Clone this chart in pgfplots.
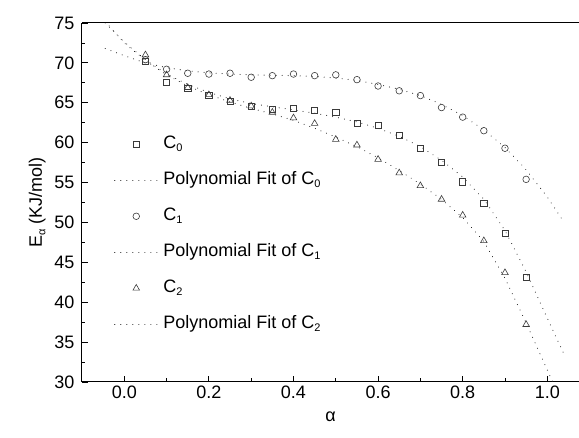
\documentclass[border=0pt]{standalone}
\usepackage{pgfplots}
\pgfplotsset{compat=1.18}
\usepackage{fontspec}
\setmainfont{Liberation Sans}
\definecolor{mk}{HTML}{3A3A3A}
\newcommand\sub[1]{\raisebox{-3.5pt}{\fontsize{11}{11}\selectfont #1}}
\begin{document}
\begin{tikzpicture}
\begin{axis}[
  scale only axis, width=497pt, height=359pt,
  xmin=-0.1, xmax=1.075, ymin=30, ymax=75,
  axis x line*=bottom, axis y line*=left,
  axis line style={line width=1pt, -},
  tick align=inside,
  xtick={0,0.2,0.4,0.6,0.8,1.0}, ytick={30,35,40,45,50,55,60,65,70,75},
  minor x tick num=1, minor y tick num=1,
  major tick length=6pt, minor tick length=3.5pt,
  every tick/.style={line width=0.8pt, black},
  xticklabel style={/pgf/number format/.cd, fixed, fixed zerofill, precision=1},
  /pgf/number format/assume math mode=true,
  ticklabel style={font=\fontsize{18}{20}\selectfont},
  yticklabel style={xshift=-4pt},
  xlabel={α}, ylabel={E\sub{α} (KJ/mol)},
  xlabel style={yshift=-7pt},
  ylabel style={yshift=2pt},
  label style={font=\fontsize{18}{20}\selectfont},
  legend cell align=left,
  legend style={draw=none, fill=none, inner sep=0pt,
    at={(axis description cs:0.0644,0.685)}, anchor=north west,
    font=\fontsize{18}{20}\selectfont, row sep=20pt, column sep=5pt,
    nodes={inner sep=0pt, text height=12pt, text depth=4pt}},
  extra description/.code={\draw[line width=1pt] (0,1) -- (1,1);},
  mk/.style={only marks, color=mk, line width=0.6pt,
    legend image code/.code={\draw[##1,mark repeat=2,mark phase=2] plot coordinates {(0pt,0pt) (21.5pt,0pt) (43pt,0pt)};}},
  fit/.style={no marks, color=black!85, line width=1.1pt, line cap=round, dash pattern=on 0.01pt off 6pt,
    legend image code/.code={\draw[##1] (0pt,0pt) -- (43pt,0pt);}},
]
\addplot[mk, mark=square, mark size=3.1pt] coordinates {
(0.05,70.2) (0.10,67.6) (0.15,66.8) (0.20,65.9) (0.25,65.2) (0.30,64.6) (0.35,64.2) (0.40,64.3) (0.45,64.1)
(0.50,63.8) (0.55,62.4) (0.60,62.2) (0.65,60.9) (0.70,59.3) (0.75,57.5) (0.80,55.1) (0.85,52.4) (0.90,48.6) (0.95,43.1)};
\addlegendentry{C\sub{0}}
\addplot[fit] coordinates {
(-0.045,75.0) (0,72.6) (0.05,70.4) (0.10,68.6) (0.15,67.3) (0.20,66.3) (0.25,65.5) (0.30,64.9) (0.35,64.5) (0.40,64.1)
(0.45,63.7) (0.50,63.2) (0.55,62.6) (0.60,61.8) (0.65,60.8) (0.70,59.5) (0.75,57.8) (0.80,55.7) (0.85,52.9)
(0.90,49.0) (0.95,43.8) (1.00,38.0) (1.042,33.2)};
\addlegendentry{Polynomial Fit of C\sub{0}}
\addplot[mk, mark=o, mark size=3.3pt] coordinates {
(0.05,70.4) (0.10,69.2) (0.15,68.7) (0.20,68.6) (0.25,68.7) (0.30,68.2) (0.35,68.4) (0.40,68.6) (0.45,68.4)
(0.50,68.5) (0.55,67.9) (0.60,67.1) (0.65,66.5) (0.70,65.9) (0.75,64.4) (0.80,63.2) (0.85,61.5) (0.90,59.3) (0.95,55.4)};
\addlegendentry{C\sub{1}}
\addplot[fit] coordinates {
(-0.045,71.8) (0,70.9) (0.05,70.0) (0.10,69.4) (0.15,69.0) (0.20,68.75) (0.25,68.6) (0.30,68.5) (0.35,68.45)
(0.40,68.4) (0.45,68.3) (0.50,68.1) (0.55,67.8) (0.60,67.3) (0.65,66.7) (0.70,65.9) (0.75,64.8) (0.80,63.4)
(0.85,61.6) (0.90,59.4) (0.95,56.6) (1.00,53.2) (1.04,50.0)};
\addlegendentry{Polynomial Fit of C\sub{1}}
\addplot[mk, mark=triangle, mark size=3.8pt] coordinates {
(0.05,71.0) (0.10,68.5) (0.15,66.9) (0.20,66.0) (0.25,65.3) (0.30,64.6) (0.35,63.8) (0.40,63.1) (0.45,62.4)
(0.50,60.4) (0.55,59.7) (0.60,57.9) (0.65,56.2) (0.70,54.6) (0.75,52.9) (0.80,50.9) (0.85,47.7) (0.90,43.7) (0.95,37.2)};
\addlegendentry{C\sub{2}}
\addplot[fit] coordinates {
(-0.045,75.2) (0,72.5) (0.05,70.3) (0.10,68.5) (0.15,67.1) (0.20,66.0) (0.25,65.1) (0.30,64.3) (0.35,63.6)
(0.40,62.8) (0.45,61.8) (0.50,60.7) (0.55,59.5) (0.60,58.1) (0.65,56.5) (0.70,54.8) (0.75,52.9) (0.80,50.6)
(0.85,47.6) (0.90,43.0) (0.95,37.4) (1.00,31.5) (1.03,28.0)};
\addlegendentry{Polynomial Fit of C\sub{2}}
\end{axis}
\pgfresetboundingbox
\path ([shift={(-82pt,-56pt)}]current axis.south west) rectangle ([shift={(0pt,23pt)}]current axis.north east);
\end{tikzpicture}
\end{document}
